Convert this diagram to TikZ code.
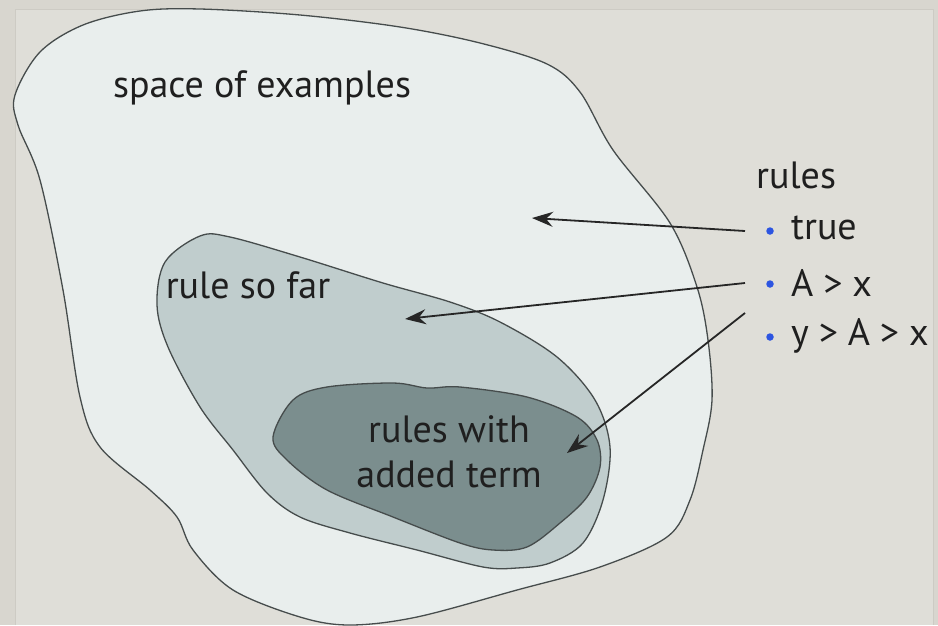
\documentclass[tikz,border=0pt]{standalone}
\usepackage{fontspec}
\setmainfont{PT Sans}
\usetikzlibrary{arrows.meta}
\definecolor{bgout}{RGB}{216,214,207}
\definecolor{bgin}{RGB}{223,222,216}
\definecolor{frameline}{RGB}{205,203,196}
\definecolor{blobA}{RGB}{233,238,237}
\definecolor{blobB}{RGB}{192,205,205}
\definecolor{blobC}{RGB}{123,142,142}
\definecolor{edge}{RGB}{70,76,76}
\definecolor{bulletblue}{RGB}{45,85,225}
\newcommand{\gapsp}{\hspace{0.26em}}
\tikzset{
  blob/.style={draw=edge, line width=1.3pt},
  lbl/.style={font=\fontsize{38}{44}\selectfont, text=black!88, inner sep=0pt},
  ptr/.style={draw=black!85, line width=1.8pt, -{Stealth[length=21pt,width=15pt,inset=7pt]}},
  dot/.style={circle, fill=bulletblue, inner sep=0pt, minimum size=7.5pt}
}
\begin{document}
\begin{tikzpicture}[x=1pt,y=-1pt]
\useasboundingbox (0,0) rectangle (938,625);
\fill[bgout] (0,0) rectangle (938,625);
\fill[bgin] (15,9) rectangle (933,625);
\draw[frameline, line width=1pt] (15,625) -- (15,9) -- (933,9) -- (933,625);
% outer blob
\path[blob, fill=blobA] plot[smooth cycle, tension=0.55] coordinates {
 (15,95) (40,52) (83,25) (140,11) (200,9) (300,15) (400,27) (480,43) (547,64)
 (580,92) (613,150) (670,223) (697,287) (708,340) (712,400) (703,450) (690,500)
 (667,537) (600,567) (517,590) (417,617) (350,625) (300,617) (233,590) (193,550)
 (177,517) (150,490) (100,447) (80,397) (63,290) (40,180) (18,125)};
% middle blob
\path[blob, fill=blobB] plot[smooth cycle, tension=0.55] coordinates {
 (200,236) (230,237) (300,257) (383,283) (450,302) (500,322) (557,357) (595,400)
 (610,447) (603,500) (583,543) (550,563) (517,568) (483,567) (417,550) (350,533)
 (300,517) (267,493) (233,450) (200,407) (168,347) (157,305) (165,262)};
% inner blob
\path[blob, fill=blobC] plot[smooth cycle, tension=0.55] coordinates {
 (293,400) (327,387) (393,383) (427,388) (460,387) (527,397) (577,417) (597,440)
 (600,467) (587,497) (560,523) (527,547) (493,550) (460,543) (393,517) (327,490)
 (287,460) (273,437)};
% labels
\node[lbl] (space) at (262,88) {space of examples};
\node[lbl] (sofar) at (248,285) {rule so far};
\node[lbl, align=center, font=\fontsize{38}{45}\selectfont] (added) at (449,452) {rules with\\added term};
\node[lbl, anchor=west] (rules) at (756,175) {rules};
\node[dot] (b1) at (770,231) {};
\node[dot] (b2) at (770,284) {};
\node[dot] (b3) at (770,337) {};
\node[lbl, anchor=west] (rtrue) at (791,228) {true};
\node[lbl, anchor=west] (rax) at (791,283) {A\gapsp>\gapsp x};
\node[lbl, anchor=west] (ryax) at (791,336) {y\gapsp>\gapsp A\gapsp>\gapsp x};
% connectors
\coordinate (s1) at (745,231);
\coordinate (s2) at (745,283);
\coordinate (s3) at (745,313);
\coordinate (t1) at (532,218);
\coordinate (t2) at (405,319);
\coordinate (t3) at (567,453);
\draw[ptr] (s1) -- (t1);
\draw[ptr] (s2) -- (t2);
\draw[ptr] (s3) -- (t3);
\end{tikzpicture}
\end{document}
